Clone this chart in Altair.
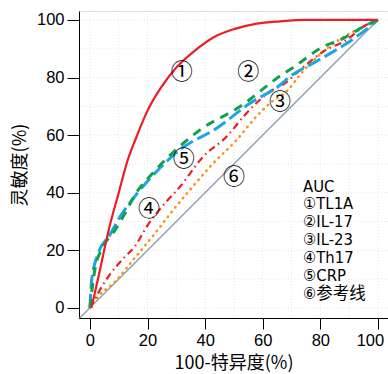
import altair as alt
import pandas as pd

# ---- data ----
tl1a_x = [0.5, 3, 6.5, 10, 13, 16, 20, 25, 30, 36, 43, 50, 58, 66, 75, 100]
tl1a_y = [0, 11, 27, 40, 51, 59, 68.5, 77, 83.5, 89, 94, 96.8, 98.7, 99.5, 100, 100]

il17_x = [0, 1.7, 4.6, 8.7, 12.2, 15.6, 22, 27.8, 38.2, 52.1, 66, 70.6, 81, 88, 95, 100]
il17_y = [0, 13.2, 21.3, 27, 32.9, 39.2, 47, 53, 61.8, 69.9, 80.5, 83.5, 90.7, 93.6, 97.7, 100]

il23_x = [0, 6.4, 12.2, 15.6, 19.7, 26, 31.2, 39.3, 47.5, 53.8, 62.5, 67.7, 72.9, 81, 89, 96, 100]
il23_y = [0, 10.9, 17.8, 21.3, 28.2, 36.3, 42, 52.5, 59.5, 67, 75.1, 78, 82.6, 89, 93, 98.3, 100]

th17_x = [0, 2.9, 8.7, 15, 22.6, 28.9, 34.7, 42.8, 50.9, 57.3, 62.5, 68.8, 72.9, 85.6, 91.4, 100]
th17_y = [0, 4, 9.1, 16.7, 25.9, 34, 41, 50.2, 58.3, 65.9, 71.1, 75.7, 80.9, 92.5, 95.9, 100]

crp_x = [0, 0.6, 2.9, 6.9, 9.8, 15, 22.6, 31.2, 44, 55.6, 66, 69.4, 77.5, 84.5, 92.6, 100]
crp_y = [0, 9.7, 19, 25.3, 30.6, 38, 46.8, 54.9, 62.4, 71.1, 77.4, 80.3, 85, 89, 94.2, 100]

ref_x = [-3.6, 100]
ref_y = [-3.6, 100]

label_text = ["①", "②", "③", "④", "⑤", "⑥"]
label_x = [31.9, 55.0, 66.0, 20.5, 32.6, 50.0]
label_y = [81.9, 82.0, 71.5, 34.4, 51.7, 45.5]

legend_lines = ["AUC", "①TL1A", "②IL-17", "③IL-23", "④Th17", "⑤CRP", "⑥参考线"]

tick_values = [0, 20, 40, 60, 80, 100]
grid_values = [0, 10, 20, 30, 40, 50, 60, 70, 80, 90, 100]

XDOM = [-3.8, 103.5]
YDOM = [-3.5, 103.1]

W, H = 309, 307

XAXIS = alt.Axis(
    values=tick_values,
    grid=False,
    domainColor="black",
    tickColor="black",
    tickSize=11,
    labelFont="Liberation Sans",
    labelFontSize=16.5,
    labelColor="black",
    labelPadding=3,
    labelOffset={"condition": {"test": "datum.value == 100", "value": -8}, "value": 0},
    titleFont="Noto Sans CJK SC",
    titleFontSize=18,
    titleFontWeight="normal",
    titleColor="black",
    titlePadding=6,
)
YAXIS = alt.Axis(
    values=tick_values,
    grid=False,
    domainColor="black",
    tickColor="black",
    tickSize=12,
    labelFont="Liberation Sans",
    labelFontSize=16.5,
    labelColor="black",
    labelPadding=3,
    titleFont="Noto Sans CJK SC",
    titleFontSize=18,
    titleFontWeight="normal",
    titleColor="black",
    titlePadding=7,
)


def X(field):
    return alt.X(field, type="quantitative", scale=alt.Scale(domain=XDOM, nice=False, zero=False),
                 title="100-特异度(%)", axis=XAXIS)


def Y(field):
    return alt.Y(field, type="quantitative", scale=alt.Scale(domain=YDOM, nice=False, zero=False),
                 title="灵敏度(%)", axis=YAXIS)


def curve(xv, yv, color, dash, width, interp="monotone", cap="butt"):
    df = pd.DataFrame({"x": xv, "y": yv, "o": list(range(len(xv)))})
    props = dict(color=color, strokeWidth=width, interpolate=interp, clip=True, strokeCap=cap)
    if dash:
        props["strokeDash"] = dash
    return alt.Chart(df).mark_line(**props).encode(x=X("x"), y=Y("y"), order="o:Q")


grid_df = pd.DataFrame({"g": grid_values})
grid_v = alt.Chart(grid_df).mark_rule(color="#e6e6e6", strokeWidth=1, strokeDash=[1, 2]).encode(x=X("g"))
grid_h = alt.Chart(grid_df).mark_rule(color="#e6e6e6", strokeWidth=1, strokeDash=[1, 2]).encode(y=Y("g"))

ref = curve(ref_x, ref_y, "#8a9cb0", None, 1.3, "linear")
c_th17 = curve(th17_x, th17_y, "#f7941d", [0.5, 5.5], 2.6, cap="round")
c_il23 = curve(il23_x, il23_y, "#ee1c25", [7, 4, 1.5, 4], 2.2)
c_crp = curve(crp_x, crp_y, "#1ba6e3", [14, 5], 3)
c_il17 = curve(il17_x, il17_y, "#12a04c", [9, 7], 3)
c_tl1a = curve(tl1a_x, tl1a_y, "#ee1c25", None, 2.2)

lab_df = pd.DataFrame({"t": label_text, "x": label_x, "y": label_y})
labels = alt.Chart(lab_df).mark_text(
    font="Noto Sans CJK SC", fontSize=22, color="black", align="center", baseline="middle"
).encode(x=X("x"), y=Y("y"), text="t:N")

leg_df = pd.DataFrame({"t": legend_lines, "i": list(range(len(legend_lines)))})
legend = alt.Chart(leg_df).transform_calculate(
    py="175.5 + datum.i * 17.9"
).mark_text(
    font="Liberation Sans Narrow, DejaVu Sans Condensed, Liberation Sans, Noto Sans CJK SC",
    fontSize=16.5, color="black", align="left", baseline="middle",
).encode(
    x=alt.value(224),
    y=alt.Y("py:Q", scale=None, axis=None),
    text="t:N",
)

chart = alt.layer(
    grid_v, grid_h, ref, c_th17, c_il23, c_crp, c_il17, c_tl1a, labels, legend
).properties(
    width=W,
    height=H,
    autosize=alt.AutoSizeParams(type="none"),
    padding={"left": 79, "top": 11, "right": 0, "bottom": 56},
).configure_view(stroke=None).configure(background="white")

chart.save("out.html", embed_options={"renderer": "svg", "actions": False})
